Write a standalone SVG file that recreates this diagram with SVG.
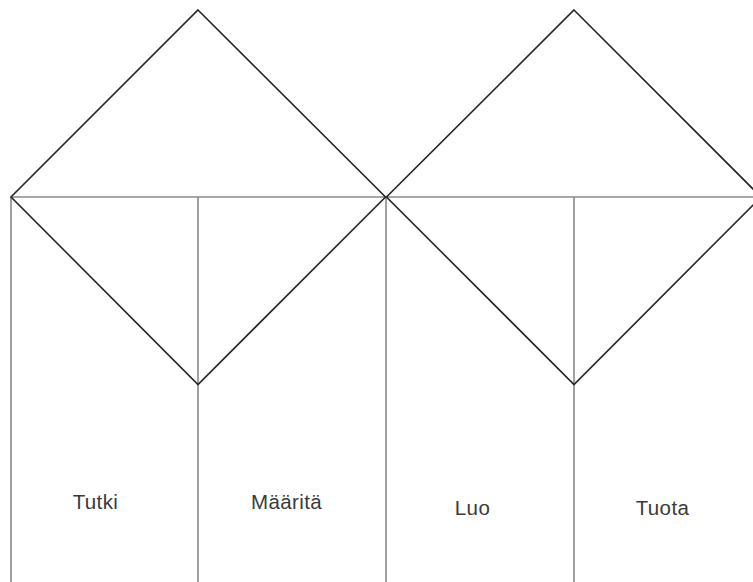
<svg xmlns="http://www.w3.org/2000/svg" width="753" height="582" viewBox="0 0 753 582">
<style>
.diag{fill:none;stroke:#262626;stroke-width:1.6}
.grid{fill:none;stroke:#8a8a8a;stroke-width:1.6}
.lbl{font-family:"Liberation Sans",Arial,sans-serif;font-size:20.5px;fill:#3a3a3a;text-anchor:middle;letter-spacing:0.4px}
</style>
<rect width="753" height="582" fill="#fff"/>
<g id="connectors">
<line class="grid" x1="11" y1="197" x2="753" y2="197"/>
<line class="grid" x1="11" y1="197" x2="11" y2="582"/>
<line class="grid" x1="198" y1="197" x2="198" y2="582"/>
<line class="grid" x1="386" y1="197" x2="386" y2="582"/>
<line class="grid" x1="574" y1="197" x2="574" y2="582"/>
</g>
<g id="diamond-left">
<polygon class="diag" points="198,10 385.5,197 198,384.5 11,197"/>
</g>
<g id="diamond-right">
<polygon class="diag" points="574,10 761,197 574,384.5 386.5,197"/>
</g>
<g id="tutki"><text class="lbl" x="95.5" y="509">Tutki</text></g>
<g id="maarita"><text class="lbl" x="286.5" y="509">Määritä</text></g>
<g id="luo"><text class="lbl" x="472.5" y="515">Luo</text></g>
<g id="tuota"><text class="lbl" x="662.5" y="515">Tuota</text></g>
</svg>
